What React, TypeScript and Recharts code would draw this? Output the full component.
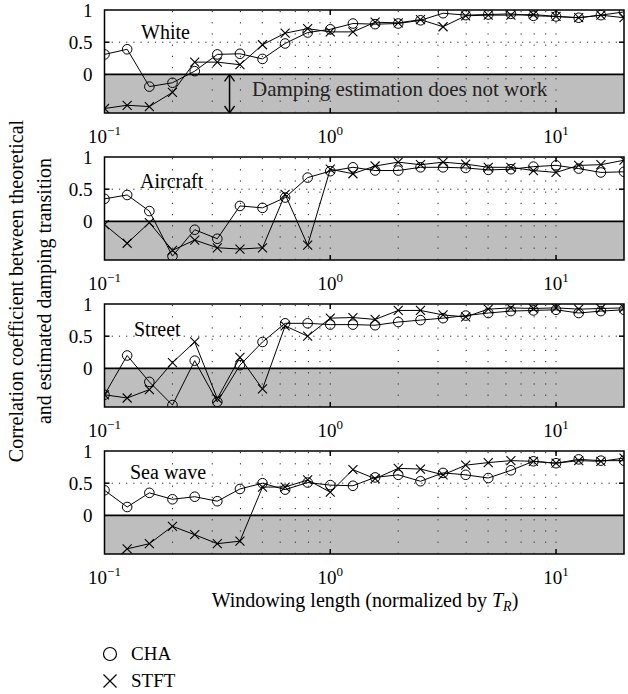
import { Line, LineChart, ReferenceArea, ReferenceLine, XAxis, YAxis } from "recharts"

// windowing length, normalized by T_R (10 points per decade)
const windowLength = [
  0.1, 0.126, 0.158, 0.2, 0.251, 0.316, 0.398, 0.501, 0.631, 0.794, 1, 1.26, 1.58, 2, 2.51, 3.16, 3.98, 5.01,
  6.31, 7.94, 10, 12.6, 15.8, 20,
]

const whiteCha = [
  0.31, 0.39, -0.19, -0.13, 0.05, 0.31, 0.32, 0.24, 0.48, 0.65, 0.7, 0.79, 0.78, 0.79, 0.84, 0.95, 0.92, 0.93,
  0.94, 0.91, 0.9, 0.88, 0.92, 0.97,
]
const whiteStft = [
  -0.53, -0.48, -0.5, -0.28, 0.19, 0.19, 0.15, 0.46, 0.64, 0.71, 0.66, 0.66, 0.81, 0.8, 0.85, 0.74, 0.91, 0.92,
  0.92, 0.93, 0.9, 0.88, 0.92, 0.88,
]

const aircraftCha = [
  0.35, 0.41, 0.16, -0.54, -0.13, -0.27, 0.24, 0.21, 0.37, 0.68, 0.78, 0.84, 0.79, 0.79, 0.84, 0.84, 0.83, 0.8,
  0.81, 0.85, 0.87, 0.82, 0.76, 0.77,
]
const aircraftStft = [
  -0.05, -0.34, -0.02, -0.45, -0.29, -0.41, -0.43, -0.41, 0.42, -0.37, 0.81, 0.74, 0.86, 0.92, 0.88, 0.92, 0.89,
  0.84, 0.84, 0.79, 0.76, 0.87, 0.88, 0.95,
]

const streetCha = [
  -0.41, 0.2, -0.21, -0.57, 0.12, -0.52, 0.05, 0.41, 0.7, 0.7, 0.68, 0.68, 0.67, 0.72, 0.75, 0.78, 0.82, 0.86,
  0.89, 0.9, 0.91, 0.86, 0.89, 0.91,
]
const streetStft = [
  -0.41, -0.46, -0.33, 0.09, 0.41, -0.47, 0.17, -0.32, 0.66, 0.5, 0.78, 0.79, 0.76, 0.9, 0.9, 0.83, 0.8, 0.92,
  0.94, 0.93, 0.94, 0.92, 0.93, 0.94,
]

const seaCha = [
  0.39, 0.13, 0.35, 0.25, 0.29, 0.22, 0.41, 0.5, 0.4, 0.51, 0.47, 0.46, 0.59, 0.63, 0.53, 0.66, 0.63, 0.58, 0.7,
  0.84, 0.81, 0.87, 0.85, 0.85,
]
const seaStft = [
  -0.84, -0.52, -0.44, -0.17, -0.3, -0.44, -0.4, 0.44, 0.44, 0.55, 0.36, 0.71, 0.57, 0.73, 0.72, 0.63, 0.78, 0.82,
  0.85, 0.84, 0.81, 0.85, 0.84, 0.89,
]

const panelNames = ["White", "Aircraft", "Street", "Sea wave"]
const chaSeries = [whiteCha, aircraftCha, streetCha, seaCha]
const stftSeries = [whiteStft, aircraftStft, streetStft, seaStft]

const xTicks = [0.1, 1, 10]
const yTicks = [0, 0.5, 1]
const gridX = [0.2, 0.3, 0.4, 0.5, 0.6, 0.7, 0.8, 0.9, 1, 2, 3, 4, 5, 6, 7, 8, 9, 10]

const FONT = '"Liberation Serif", "DejaVu Serif", serif'
const W = 628
const CH = 147
const TOP = 10
const PLOT_H = 103
const LEFT = 104.5
const RIGHT = 4
const panelTops = [0, 147, 294, 441]
const Y_MIN = -0.6
const Y_MAX = 1

const XTick = (props: any) => {
  const v = props.payload.value
  const exp = Math.round(Math.log10(v))
  return (
    <text x={props.x} y={TOP + PLOT_H + 30} textAnchor="middle" fontFamily={FONT} fontSize={19} fill="#000">
      <tspan>10</tspan>
      <tspan dy={-8} fontSize={13}>
        {exp < 0 ? "\u2212" + -exp : exp}
      </tspan>
    </text>
  )
}

const YTick = (props: any) => (
  <text x={LEFT - 12} y={props.y} dy="0.35em" textAnchor="end" fontFamily={FONT} fontSize={19} fill="#000">
    {props.payload.value}
  </text>
)

const CircleDot = (p: any) => {
  if (p.cx == null || p.cy == null) return <g key={`c-${p.index}`} />
  return <circle key={`c-${p.index}`} cx={p.cx} cy={p.cy} r={4.8} fill="none" stroke="#000" strokeWidth={1} />
}

const CrossDot = (p: any) => {
  if (p.cx == null || p.cy == null) return <g key={`x-${p.index}`} />
  const s = 4.5
  const { cx, cy } = p
  return (
    <path
      key={`x-${p.index}`}
      d={`M${cx - s},${cy - s}L${cx + s},${cy + s}M${cx - s},${cy + s}L${cx + s},${cy - s}`}
      stroke="#000"
      strokeWidth={1.1}
      fill="none"
    />
  )
}

// pixel helpers for tick/arrow decorations
const pxX = (px: number) => Math.pow(10, px / ((W - LEFT - RIGHT) / Math.log10(200)))
const pxY = (px: number) => (px * (Y_MAX - Y_MIN)) / PLOT_H

function Panel({ idx }: { idx: number }) {
  const data = windowLength.map((x, i) => ({ x, cha: chaSeries[idx][i], stft: stftSeries[idx][i] }))
  const arrowX = 0.358
  const ah = pxY(7)
  const aw = pxX(5)
  const tk = pxY(5)
  const tx = pxX(5)
  return (
    <div style={{ position: "absolute", left: 0, top: panelTops[idx] }}>
      <LineChart width={W} height={CH} data={data} margin={{ top: TOP, right: RIGHT, bottom: 0, left: 0 }}>
        <XAxis
          dataKey="x"
          type="number"
          scale="log"
          domain={[0.1, 20]}
          ticks={xTicks}
          tick={<XTick />}
          axisLine={false}
          tickLine={false}
          height={CH - TOP - PLOT_H}
          allowDataOverflow
        />
        <YAxis
          type="number"
          domain={[Y_MIN, Y_MAX]}
          ticks={yTicks}
          tick={<YTick />}
          axisLine={false}
          tickLine={false}
          width={LEFT}
          allowDataOverflow
        />
        <ReferenceArea x1={0.1} x2={20} y1={Y_MIN} y2={0} fill="#bebebe" fillOpacity={1} stroke="none" />
        {gridX.map((g) => (
          <ReferenceLine
            key={`g-${g}`}
            x={g}
            stroke="#222"
            strokeWidth={1}
            strokeDasharray="1.2 10"
          />
        ))}
        <ReferenceLine y={0.5} stroke="#222" strokeWidth={1} strokeDasharray="1.2 6" />
        <ReferenceLine y={0} stroke="#000" strokeWidth={1.8} />
        {[1, 10].map((t) => (
          <ReferenceLine
            key={`bt-${t}`}
            segment={[
              { x: t, y: Y_MIN },
              { x: t, y: Y_MIN + tk },
            ]}
            stroke="#000"
            strokeWidth={1.5}
          />
        ))}
        {[1, 10].map((t) => (
          <ReferenceLine
            key={`tt-${t}`}
            segment={[
              { x: t, y: Y_MAX },
              { x: t, y: Y_MAX - tk },
            ]}
            stroke="#000"
            strokeWidth={1.5}
          />
        ))}
        <ReferenceLine
          segment={[
            { x: 0.1, y: 0.5 },
            { x: 0.1 * tx, y: 0.5 },
          ]}
          stroke="#000"
          strokeWidth={1.5}
        />
        <ReferenceLine
          segment={[
            { x: 20 / tx, y: 0.5 },
            { x: 20, y: 0.5 },
          ]}
          stroke="#000"
          strokeWidth={1.5}
        />
        {idx === 0 && (
          <ReferenceLine
            segment={[
              { x: arrowX, y: 0 },
              { x: arrowX, y: Y_MIN },
            ]}
            stroke="#000"
            strokeWidth={1.5}
          />
        )}
        {idx === 0 &&
          [
            [0, -ah],
            [Y_MIN, ah],
          ].map(([tip, d], k) =>
            [1 / aw, aw].map((f, j) => (
              <ReferenceLine
                key={`ah-${k}-${j}`}
                segment={[
                  { x: arrowX, y: tip },
                  { x: arrowX * f, y: tip + d },
                ]}
                stroke="#000"
                strokeWidth={1.3}
              />
            )),
          )}
        <Line
          dataKey="cha"
          stroke="#000"
          strokeWidth={1}
          dot={CircleDot}
          activeDot={false}
          isAnimationActive={false}
        />
        <Line
          dataKey="stft"
          stroke="#000"
          strokeWidth={1}
          dot={CrossDot}
          activeDot={false}
          isAnimationActive={false}
        />
        <ReferenceArea x1={0.1} x2={20} y1={Y_MIN} y2={Y_MAX} fill="none" stroke="#000" strokeWidth={1.5} />
      </LineChart>
    </div>
  )
}

const labelPos = [
  { x: 141, y: 39 },
  { x: 140, y: 188 },
  { x: 134, y: 336 },
  { x: 130, y: 479 },
]

export default function App() {
  return (
    <div style={{ position: "absolute", left: 0, top: 0, width: W, height: 694, background: "#fff" }}>
      {panelNames.map((_, i) => (
        <Panel key={i} idx={i} />
      ))}
      <svg
        width={W}
        height={694}
        style={{ position: "absolute", left: 0, top: 0, pointerEvents: "none" }}
        fontFamily={FONT}
      >
        {panelNames.map((n, i) => (
          <text key={n} x={labelPos[i].x} y={labelPos[i].y} fontSize={20} fill="#000">
            {n}
          </text>
        ))}
        <text x={252} y={96} fontSize={21} fill="#222">
          Damping estimation does not work
        </text>
        <text x={365} y={607} textAnchor="middle" fontSize={20} fill="#000">
          Windowing length (normalized by <tspan fontStyle="italic">T</tspan>
          <tspan fontStyle="italic" fontSize={14} dy={4}>
            R
          </tspan>
          <tspan dy={-4}>)</tspan>
        </text>
        <text transform="translate(23,291) rotate(-90)" textAnchor="middle" fontSize={20} fill="#000">
          Correlation coefficient between theoretical
        </text>
        <text transform="translate(51,291) rotate(-90)" textAnchor="middle" fontSize={20} fill="#000">
          and estimated damping transition
        </text>
        <circle cx={110} cy={654} r={6.5} fill="none" stroke="#000" strokeWidth={1.2} />
        <text x={131} y={660} fontSize={19} fill="#000">
          CHA
        </text>
        <path d="M103.5,674.5L116.5,687.5M103.5,687.5L116.5,674.5" stroke="#000" strokeWidth={1.2} />
        <text x={131} y={687} fontSize={19} fill="#000">
          STFT
        </text>
      </svg>
    </div>
  )
}
